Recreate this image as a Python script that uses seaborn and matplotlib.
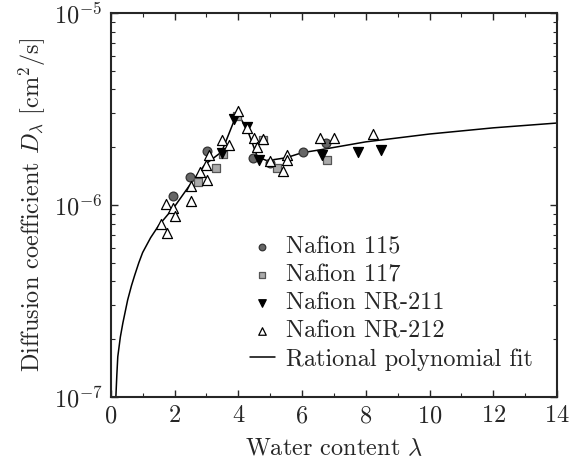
import numpy as np
import pandas as pd
import seaborn as sns
import matplotlib.pyplot as plt

# data (lambda, D in cm^2/s)
n115_x = [1.95, 2.48, 3.01, 4.46, 4.99, 6.03, 6.75]
n115_y = [1.11e-6, 1.40e-6, 1.91e-6, 1.76e-6, 1.66e-6, 1.89e-6, 2.10e-6]

n117_x = [2.73, 3.30, 3.52, 3.96, 4.77, 5.21, 6.78]
n117_y = [1.32e-6, 1.56e-6, 1.85e-6, 2.91e-6, 2.18e-6, 1.56e-6, 1.71e-6]

nr211_x = [3.48, 3.86, 4.27, 4.65, 6.62, 7.75, 8.48]
nr211_y = [1.87e-6, 2.81e-6, 2.55e-6, 1.71e-6, 1.82e-6, 1.89e-6, 1.93e-6]

nr212_x = [1.57, 1.76, 1.73, 1.95, 2.01, 2.51, 2.51, 2.79, 2.98, 3.01, 3.08, 3.48,
           3.70, 3.99, 4.27, 4.49, 4.77, 4.58, 4.99, 5.40, 5.52, 5.52, 6.56, 7.00, 8.22]
nr212_y = [0.80e-6, 0.71e-6, 1.01e-6, 0.96e-6, 0.88e-6, 1.05e-6, 1.26e-6, 1.49e-6,
           1.62e-6, 1.35e-6, 1.82e-6, 2.18e-6, 2.05e-6, 3.09e-6, 2.52e-6, 2.23e-6,
           2.21e-6, 2.00e-6, 1.69e-6, 1.50e-6, 1.82e-6, 1.71e-6, 2.23e-6, 2.23e-6, 2.34e-6]

# fit curve, points
fit_x = [0.16, 0.19, 0.22, 0.30, 0.38, 0.53, 0.65, 0.75, 0.88, 1.0, 1.25, 1.5, 2.0,
         2.48, 2.95, 3.48, 3.89, 3.97, 4.27, 4.6, 4.9, 5.5, 6.0, 6.6, 8.0, 10.0, 12.0, 14.0]
fit_y = [1.0e-7, 1.3e-7, 1.62e-7, 2.05e-7, 2.43e-7, 3.2e-7, 3.8e-7, 4.3e-7, 5.0e-7,
         5.65e-7, 6.75e-7, 7.8e-7, 9.8e-7, 1.27e-6, 1.62e-6, 1.89e-6, 2.8e-6, 3.0e-6,
         2.5e-6, 1.78e-6, 1.70e-6, 1.76e-6, 1.87e-6, 1.94e-6, 2.13e-6, 2.34e-6, 2.52e-6, 2.67e-6]

sns.set_style("ticks")
plt.rcParams['font.family'] = 'serif'
plt.rcParams['font.serif'] = ['cmr10', 'DejaVu Serif']
plt.rcParams['mathtext.fontset'] = 'cm'
plt.rcParams['axes.formatter.use_mathtext'] = True
plt.rcParams['axes.unicode_minus'] = False

FS = 17.5

fig = plt.figure(figsize=(5.71, 4.61), dpi=100)
ax = fig.add_axes([0.194, 0.139, 0.7815, 0.833])

series = [
    ("Nafion 115", n115_x, n115_y, "o", "#666666", "#333333", 40),
    ("Nafion 117", n117_x, n117_y, "s", "#aaaaaa", "#555555", 38),
    ("Nafion NR-211", nr211_x, nr211_y, "v", "black", "black", 52),
    ("Nafion NR-212", nr212_x, nr212_y, "^", "white", "black", 52),
]
for name, xs, ys, mk, fc, ec, s in series:
    df = pd.DataFrame({"lam": xs, "D": ys})
    sns.scatterplot(data=df, x="lam", y="D", marker=mk, color=fc, edgecolor=ec,
                    linewidth=0.9, s=s, label=name, ax=ax, zorder=3)

fit = pd.DataFrame({"lam": fit_x, "D": fit_y})
sns.lineplot(data=fit, x="lam", y="D", color="black", linewidth=1.1, sort=False,
             label="Rational polynomial fit", ax=ax, zorder=2)

ax.set_yscale("log")
ax.set_xlim(0, 14)
ax.set_ylim(1e-7, 1e-5)
ax.set_xticks(np.arange(0, 15, 2))
ax.set_xticks(np.arange(1, 14, 2), minor=True)
ax.tick_params(which="both", direction="in", top=True, right=True, labelsize=FS)
ax.tick_params(which="major", length=5, width=1, pad=6)
ax.tick_params(which="minor", length=3, width=0.8)
for sp in ax.spines.values():
    sp.set_linewidth(1.5)

ax.set_xlabel(r"Water content $\lambda$", fontsize=FS, labelpad=8)
ax.set_ylabel(r"Diffusion coefficient $D_\lambda$ [cm$^2$/s]", fontsize=FS, labelpad=4)

ax.legend(loc="lower left", bbox_to_anchor=(0.28, 0.03), frameon=False, fontsize=FS,
          handlelength=1.0, handletextpad=0.45, labelspacing=0.24, markerscale=0.75,
          borderaxespad=0.2)

fig.savefig("out.png", dpi=100)
